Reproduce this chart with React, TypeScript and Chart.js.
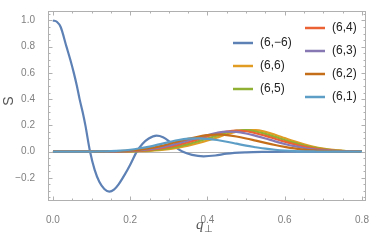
import React, { useEffect, useRef } from "react";
import { Chart, registerables } from "chart.js";

Chart.register(...registerables);

// q values for the (6,-6) curve
const Q_BLUE = [0, 0.01, 0.02, 0.035, 0.045, 0.054, 0.062, 0.069, 0.077, 0.084, 0.096, 0.108, 0.12, 0.133, 0.146, 0.158, 0.17, 0.185, 0.2, 0.217, 0.232, 0.248, 0.268, 0.285, 0.3, 0.315, 0.335, 0.36, 0.39, 0.42, 0.45, 0.5, 0.55, 0.6, 0.7, 0.8];
const S_BLUE = [1.0, 0.99, 0.95, 0.8, 0.7, 0.6, 0.5, 0.4, 0.3, 0.2, 0, -0.14, -0.23, -0.285, -0.305, -0.29, -0.25, -0.18, -0.1, 0.0, 0.06, 0.1, 0.122, 0.11, 0.08, 0.04, 0, -0.025, -0.036, -0.03, -0.016, -0.006, -0.002, 0, 0, 0];

// common q grid for the other curves
const Q_GRID = [0, 0.025, 0.05, 0.075, 0.1, 0.125, 0.15, 0.175, 0.2, 0.225, 0.25, 0.275, 0.3, 0.325, 0.35, 0.375, 0.4, 0.425, 0.45, 0.475, 0.5, 0.525, 0.55, 0.575, 0.6, 0.625, 0.65, 0.675, 0.7, 0.725, 0.75, 0.775, 0.8];
const S_66 = [0, 0, 0, 0, 0, 0, 0, 0, 0.001, 0.003, 0.006, 0.011, 0.019, 0.03, 0.045, 0.063, 0.084, 0.108, 0.132, 0.152, 0.164, 0.164, 0.15, 0.128, 0.103, 0.078, 0.056, 0.037, 0.023, 0.013, 0.006, 0.003, 0.001];
const S_65 = [0, 0, 0, 0, 0, 0, 0, 0, 0.002, 0.005, 0.009, 0.016, 0.026, 0.04, 0.057, 0.078, 0.1, 0.123, 0.145, 0.16, 0.163, 0.153, 0.135, 0.112, 0.088, 0.066, 0.046, 0.03, 0.018, 0.01, 0.005, 0.002, 0];
const S_64 = [0, 0, 0, 0, 0, 0, 0, 0.001, 0.003, 0.007, 0.013, 0.022, 0.035, 0.051, 0.071, 0.093, 0.116, 0.137, 0.153, 0.16, 0.155, 0.14, 0.12, 0.098, 0.076, 0.056, 0.039, 0.025, 0.015, 0.008, 0.004, 0.001, 0];
const S_63 = [0, 0, 0, 0, 0, 0, 0, 0.002, 0.005, 0.01, 0.018, 0.03, 0.045, 0.064, 0.085, 0.106, 0.126, 0.143, 0.152, 0.15, 0.138, 0.12, 0.1, 0.078, 0.058, 0.041, 0.027, 0.017, 0.01, 0.005, 0.002, 0.001, 0];
const S_62 = [0, 0, 0, 0, 0, 0, 0.002, 0.004, 0.008, 0.015, 0.026, 0.04, 0.058, 0.078, 0.097, 0.113, 0.125, 0.13, 0.126, 0.115, 0.1, 0.083, 0.066, 0.05, 0.036, 0.024, 0.015, 0.009, 0.005, 0.002, 0.001, 0, 0];
const S_61 = [0, 0, 0, 0, 0, 0.001, 0.003, 0.007, 0.014, 0.025, 0.038, 0.055, 0.072, 0.088, 0.098, 0.1, 0.097, 0.088, 0.075, 0.06, 0.045, 0.033, 0.022, 0.014, 0.008, 0.004, 0.002, 0.001, 0, 0, 0, 0, 0];

const SERIES_LABELS = ["(6,\u22126)", "(6,6)", "(6,5)", "(6,4)", "(6,3)", "(6,2)", "(6,1)"];
const SERIES_COLORS = ["#5E81B5", "#E19C24", "#8FB032", "#EB6235", "#8778B3", "#C56E1A", "#5D9EC7"];

const X_TICKS = [0, 0.2, 0.4, 0.6, 0.8];
const Y_TICKS = [-0.2, 0, 0.2, 0.4, 0.6, 0.8, 1.0];

const FONT = "'Liberation Sans', Arial, sans-serif";

const toPts = (xs: number[], ys: number[]) => xs.map((x, i) => ({ x, y: ys[i] }));

const framePlugin = {
  id: "mmaFrame",
  beforeDatasetsDraw(chart: any) {
    const { ctx, chartArea: a, scales } = chart;
    const y0 = scales.y.getPixelForValue(0);
    ctx.save();
    ctx.strokeStyle = "#b4b4b4";
    ctx.lineWidth = 1;
    ctx.beginPath();
    ctx.moveTo(a.left, Math.round(y0) + 0.5);
    ctx.lineTo(a.right, Math.round(y0) + 0.5);
    ctx.stroke();
    ctx.restore();
  },
  afterDraw(chart: any) {
    const { ctx, chartArea: a, scales } = chart;
    const xs = scales.x, ys = scales.y;
    ctx.save();
    ctx.strokeStyle = "#b0b0b0";
    ctx.lineWidth = 1;
    const L = Math.round(a.left) + 0.5, R = Math.round(a.right) - 0.5;
    const T = Math.round(a.top) + 0.5, B = Math.round(a.bottom) - 0.5;
    ctx.strokeRect(L, T, R - L, B - T);
    ctx.beginPath();
    for (let i = 0; i <= 16; i++) {
      const v = i * 0.05;
      const p = Math.round(xs.getPixelForValue(v)) + 0.5;
      const len = i % 4 === 0 ? 4 : 2;
      ctx.moveTo(p, B); ctx.lineTo(p, B - len);
      ctx.moveTo(p, T); ctx.lineTo(p, T + len);
    }
    for (let i = -7; i <= 21; i++) {
      const v = i * 0.05;
      if (v < ys.min || v > ys.max) continue;
      const p = Math.round(ys.getPixelForValue(v)) + 0.5;
      const len = i % 4 === 0 ? 4 : 2;
      ctx.moveTo(L, p); ctx.lineTo(L + len, p);
      ctx.moveTo(R, p); ctx.lineTo(R - len, p);
    }
    ctx.stroke();

    // axis titles
    ctx.fillStyle = "#555";
    ctx.save();
    ctx.translate(9, 101);
    ctx.rotate(-Math.PI / 2);
    ctx.font = `14px ${FONT}`;
    ctx.textAlign = "center";
    ctx.textBaseline = "middle";
    ctx.fillText("S", 0, 0);
    ctx.restore();

    ctx.font = `italic 15px 'Liberation Serif', serif`;
    ctx.textAlign = "left";
    ctx.textBaseline = "alphabetic";
    ctx.fillText("q", 196, 229);
    ctx.font = `10px 'DejaVu Sans', sans-serif`;
    ctx.fillText("\u22A5", 204, 232);

    // legend
    const cols = [
      { lx: 233, tx: 260, ys: [43, 66, 89], idx: [0, 1, 2] },
      { lx: 305, tx: 332, ys: [28, 51, 74, 97], idx: [3, 4, 5, 6] },
    ];
    ctx.font = `12px ${FONT}`;
    ctx.textBaseline = "middle";
    cols.forEach((c) => {
      c.idx.forEach((k, j) => {
        const y = c.ys[j];
        ctx.strokeStyle = SERIES_COLORS[k];
        ctx.lineWidth = 2.5;
        ctx.beginPath();
        ctx.moveTo(c.lx, y);
        ctx.lineTo(c.lx + 20, y);
        ctx.stroke();
        ctx.fillStyle = "#222";
        ctx.fillText(SERIES_LABELS[k], c.tx, y);
      });
    });
    ctx.restore();
  },
};

function App() {
  const ref = useRef<HTMLCanvasElement>(null);
  useEffect(() => {
    const all = [
      toPts(Q_BLUE, S_BLUE),
      toPts(Q_GRID, S_66),
      toPts(Q_GRID, S_65),
      toPts(Q_GRID, S_64),
      toPts(Q_GRID, S_63),
      toPts(Q_GRID, S_62),
      toPts(Q_GRID, S_61),
    ];
    const chart = new Chart(ref.current!, {
      type: "line",
      data: {
        datasets: all.map((d, i) => ({
          label: SERIES_LABELS[i],
          data: d,
          borderColor: SERIES_COLORS[i],
          borderWidth: 2.2,
          pointRadius: 0,
          fill: false,
          cubicInterpolationMode: "monotone" as const,
          order: 10 - i,
        })),
      },
      plugins: [framePlugin],
      options: {
        animation: false,
        responsive: false,
        devicePixelRatio: 1,
        layout: { padding: { top: 1, right: 5, left: 0, bottom: 0 } },
        plugins: { legend: { display: false }, tooltip: { enabled: false } },
        scales: {
          x: {
            type: "linear",
            min: -0.0128,
            max: 0.81,
            grid: { display: false },
            border: { display: false },
            ticks: {
              font: { size: 10, family: FONT },
              color: "#808080",
              padding: 5,
              maxRotation: 0,
              callback: (v: any) => Number(v).toFixed(1),
            },
            afterBuildTicks: (s: any) => { s.ticks = X_TICKS.map((v) => ({ value: v })); },
            afterFit: (s: any) => { s.height = 40; },
          },
          y: {
            type: "linear",
            min: -0.377,
            max: 1.072,
            grid: { display: false },
            border: { display: false },
            ticks: {
              font: { size: 10, family: FONT },
              color: "#808080",
              padding: 5,
              callback: (v: any) => {
                const n = Number(v);
                const s = Math.abs(n).toFixed(1);
                return n < -1e-9 ? "\u2212" + s : s;
              },
            },
            afterBuildTicks: (s: any) => { s.ticks = Y_TICKS.map((v) => ({ value: v })); },
            afterFit: (s: any) => { s.width = 48; },
          },
        },
      },
    });
    return () => chart.destroy();
  }, []);
  return (
    <div style={{ position: "fixed", left: 0, top: 0, width: 374, height: 241, background: "#fff" }}>
      <canvas ref={ref} width={374} height={241} style={{ width: 374, height: 241, display: "block" }} />
    </div>
  );
}

export default App;
